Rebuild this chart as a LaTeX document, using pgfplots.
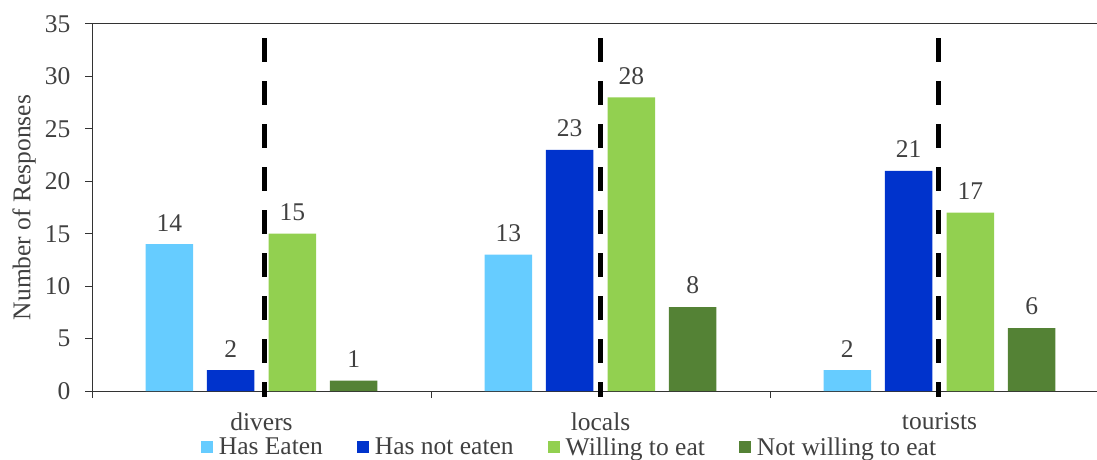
\documentclass[border=0pt]{standalone}
\usepackage{fontspec}
\setmainfont{Liberation Serif}
\usepackage{pgfplots}
\pgfplotsset{compat=1.18}

\definecolor{hasEaten}{HTML}{66CCFF}
\definecolor{notEaten}{HTML}{0033CC}
\definecolor{willing}{HTML}{92D050}
\definecolor{notWilling}{HTML}{548235}
\definecolor{txt}{HTML}{404040}
\newcommand{\chartfont}{\fontsize{25.5}{30}\selectfont}

% one unit on the x axis is 1017pt/3 = 339pt
\pgfplotsset{
  respbar/.style={
    ybar, bar width=0.14, draw=none, bar shift=#1,
    nodes near coords,
    every node near coord/.append style={font=\chartfont, text=txt,
      yshift=9.5pt, xshift={#1*339pt}},
  },
  divider/.style={black, line width=5pt, dash pattern=on 24pt off 19pt, forget plot},
}

\begin{document}
\begin{tikzpicture}
\begin{axis}[
  scale only axis, width=1017pt, height=367pt,
  xmin=-0.5, xmax=2.5, ymin=0, ymax=35,
  ytick={0,5,...,35},
  xtick={-0.5,0.5,1.5,2.5}, xticklabels={,,,},
  extra x ticks={0,1,2}, extra x tick labels={divers,locals,tourists},
  extra x tick style={major tick length=0pt},
  tick align=outside, xtick pos=left, ytick pos=left,
  major tick length=7pt,
  axis line style={black!80, line width=1pt},
  tick style={black!80, line width=1pt},
  tick label style={font=\chartfont, text=txt},
  xticklabel style={yshift=-18pt},
  yticklabel style={xshift=-11pt},
  /pgf/number format/assume math mode=true,
  ylabel={Number of Responses},
  ylabel style={font=\chartfont, text=txt, at={(axis description cs:-0.0668,0.5)}, anchor=center},
  clip=false,
  legend columns=4,
  legend style={at={(0.4685,-0.1526)}, anchor=center, draw=none, fill=none,
    font=\chartfont, text=txt, nodes={inner xsep=0pt},
    /tikz/every odd column/.append style={column sep=5.5pt},
    /tikz/every even column/.append style={column sep=34pt}},
  legend image code/.code={\fill[#1] (0pt,-6pt) rectangle (12.5pt,6.5pt);},
]
\addplot[respbar=-0.272, fill=hasEaten]   coordinates {(0,14) (1,13) (2,2)};
\addlegendentry{Has Eaten}
\addplot[respbar=-0.091, fill=notEaten]   coordinates {(0,2) (1,23) (2,21)};
\addlegendentry{Has not eaten}
\addplot[respbar=0.091,  fill=willing]    coordinates {(0,15) (1,28) (2,17)};
\addlegendentry{Willing to eat}
\addplot[respbar=0.272,  fill=notWilling] coordinates {(0,1) (1,8) (2,6)};
\addlegendentry{Not willing to eat}

% dashed dividers through the middle of each group
\addplot[divider] coordinates {(0.008,33.65) (0.008,-0.57)};
\addplot[divider] coordinates {(1,33.65) (1,-0.57)};
\addplot[divider] coordinates {(1.996,33.65) (1.996,-0.57)};
\end{axis}
\coordinate (bbA) at ([shift={(-92pt,-68pt)}]current axis.south west);
\coordinate (bbB) at ([shift={(-12pt,24pt)}]current axis.north east);
\pgfresetboundingbox
\path[use as bounding box] (bbA) rectangle (bbB);
\end{tikzpicture}
\end{document}
